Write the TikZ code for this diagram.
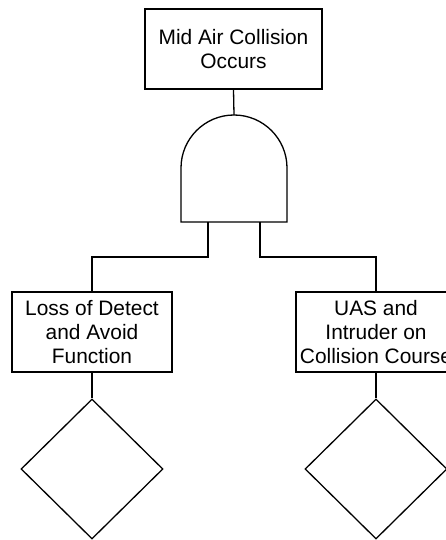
\documentclass[tikz,border=0pt]{standalone}
\usepackage{fontspec}
\setmainfont{Liberation Sans}
\usetikzlibrary{shapes.geometric}
\begin{document}
\begin{tikzpicture}[x=1pt,y=-1pt,
  line width=1.3pt,
  evbox/.style={draw, rectangle, minimum width=160pt, minimum height=80pt, inner sep=0pt, align=center,
    font=\fontsize{20.9pt}{24.3pt}\selectfont},
  undev/.style={draw, diamond, minimum width=142pt, minimum height=140pt, inner sep=0pt}]
\useasboundingbox (0,0) rectangle (446,540);
\begin{scope}
\clip (0,0) rectangle (446,540);
\node[evbox, minimum width=177pt] (top) at (233.5,49) {Mid Air Collision\\Occurs};
\node[evbox] (lbox) at (92,332) {Loss of Detect\\and Avoid\\Function};
\node[evbox] (rbox) at (376,332) {UAS and\\Intruder on\\Collision Course};
\node[undev] (ldia) at (92,469) {};
\node[undev] (rdia) at (376,469) {};
% AND gate
\coordinate (gtop) at (234,115);
\coordinate (gl) at (208,222);
\coordinate (gr) at (260,222);
\draw (181,222) -- (181,168) arc[start angle=180, end angle=360, radius=53] -- (287,222) -- cycle;
\draw (top.south) -- (gtop);
\draw (gl) -- (208,257) -| (lbox.north);
\draw (gr) -- (260,257) -| (rbox.north);
\draw (lbox.south) -- (ldia.north);
\draw (rbox.south) -- (rdia.north);
\end{scope}
\end{tikzpicture}
\end{document}
